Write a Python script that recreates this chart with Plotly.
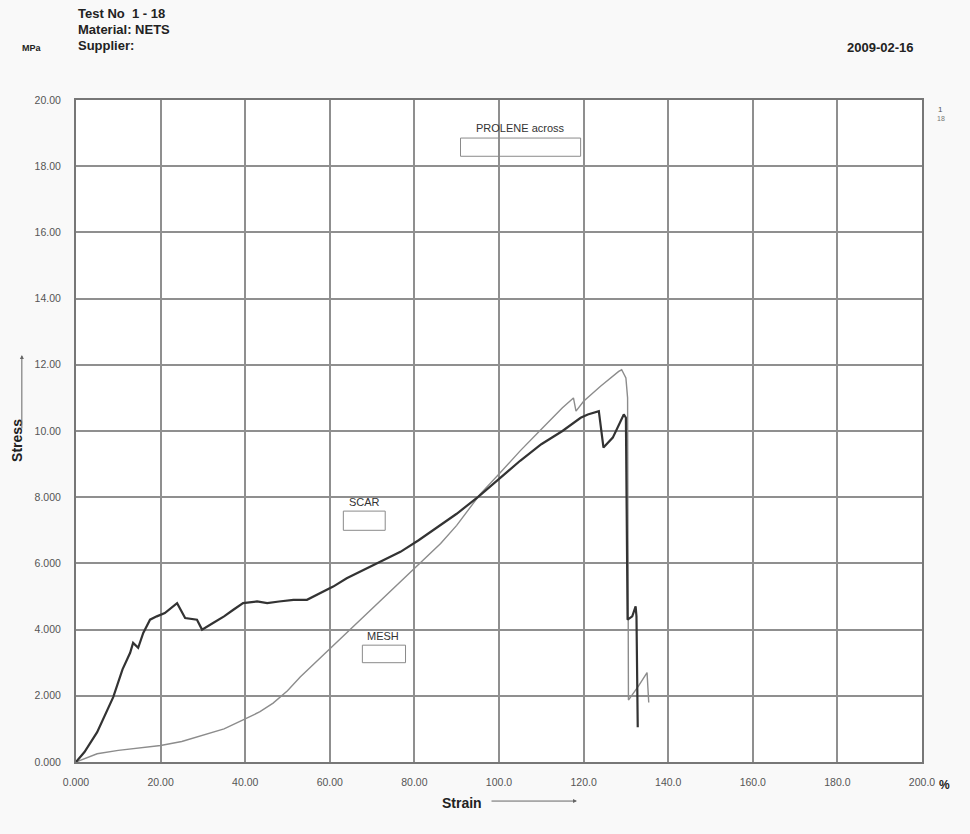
import plotly.graph_objects as go

# ---- data ----
scar_strain = [0, 2, 5, 8.8, 11, 12.8, 13.5, 14.7, 15.9, 17.5, 19.1, 21, 23.9, 24.6, 25.8,
               28.6, 29.8, 32.4, 35, 37.2, 39.5, 42.8, 45.2, 48, 51.4, 54.6, 57.8, 60.8,
               64, 68.9, 72, 76.7, 81, 86.2, 90, 95, 100, 105, 110, 115, 119.3, 121,
               123.6, 124.7, 126.9, 129.5, 130, 130.4, 131.5, 132.3, 132.5, 132.8]
scar_stress = [0, 0.3, 0.9, 1.96, 2.8, 3.3, 3.6, 3.45, 3.9, 4.3, 4.4, 4.5, 4.8, 4.65, 4.35,
               4.3, 4.0, 4.2, 4.4, 4.6, 4.8, 4.85, 4.8, 4.85, 4.9, 4.9, 5.1, 5.3,
               5.55, 5.85, 6.05, 6.35, 6.7, 7.15, 7.5, 8.0, 8.55, 9.1, 9.6, 10.0, 10.4, 10.5,
               10.6, 9.5, 9.8, 10.5, 10.4, 4.3, 4.4, 4.7, 4.4, 1.05]

mesh_strain = [0, 5, 10, 20, 25, 30, 35, 40, 43.5, 46.6, 50, 53, 57.8, 60, 64.9, 70, 76.7,
               80, 86.2, 90, 95.6, 100, 105, 110, 115, 117.6, 118.2, 120, 124, 128.3, 129,
               130, 130.4, 130.6, 133, 135, 135.4]
mesh_stress = [0, 0.25, 0.35, 0.5, 0.62, 0.8, 1.0, 1.3, 1.52, 1.78, 2.15, 2.57, 3.15, 3.42,
               4.0, 4.63, 5.44, 5.84, 6.6, 7.15, 8.1, 8.7, 9.4, 10.05, 10.7, 11.0, 10.6,
               10.9, 11.35, 11.8, 11.85, 11.6, 11.0, 1.87, 2.3, 2.7, 1.8]

x_tickvals = [0, 20, 40, 60, 80, 100, 120, 140, 160, 180, 200]
x_ticktext = ["0.000", "20.00", "40.00", "60.00", "80.00", "100.0", "120.0", "140.0",
              "160.0", "180.0", "200.0"]
y_tickvals = [0, 2, 4, 6, 8, 10, 12, 14, 16, 18, 20]
y_ticktext = ["0.000", "2.000", "4.000", "6.000", "8.000", "10.00", "12.00", "14.00",
              "16.00", "18.00", "20.00"]

FONT = "Liberation Sans"
fig = go.Figure()
fig.add_trace(go.Scatter(x=mesh_strain, y=mesh_stress, mode="lines", name="MESH",
                         line=dict(color="#8c8c8c", width=1.4)))
fig.add_trace(go.Scatter(x=scar_strain, y=scar_stress, mode="lines", name="SCAR",
                         line=dict(color="#333333", width=2.2)))

# label boxes in data coordinates
boxes = [(90.9, 119.3, 18.3, 18.85), (63.2, 73.1, 7.0, 7.58), (67.7, 77.9, 3.0, 3.53)]
for x0, x1, y0, y1 in boxes:
    fig.add_shape(type="rect", x0=x0, x1=x1, y0=y0, y1=y1, xref="x", yref="y",
                  line=dict(color="#8a8a8a", width=1), fillcolor="rgba(0,0,0,0)")

ann = []
def txt(x, y, s, size=12, bold=False, xanchor="center", xref="paper", yref="paper",
        color="#222", textangle=0):
    ann.append(dict(x=x, y=y, xref=xref, yref=yref, text=(f"<b>{s}</b>" if bold else s),
                    showarrow=False, xanchor=xanchor, yanchor="middle", textangle=textangle,
                    font=dict(family=FONT, size=size, color=color)))

txt(105.1, 19.15, "PROLENE across", size=11, xref="x", yref="y", color="#333")
txt(68.2, 7.85, "SCAR", size=11, xref="x", yref="y", color="#333")
txt(72.6, 3.8, "MESH", size=11, xref="x", yref="y", color="#333")

txt(0.0, 1.131, "Test No  1 - 18", size=13, bold=True, xanchor="left")
txt(0.0, 1.107, "Material: NETS", size=13, bold=True, xanchor="left")
txt(0.0, 1.082, "Supplier:", size=13, bold=True, xanchor="left")
txt(-0.066, 1.079, "MPa", size=9, bold=True, xanchor="left")
txt(0.993, 1.080, "2009-02-16", size=13, bold=True, xanchor="right")
txt(1.022, 0.985, "1", size=8, color="#555")
txt(1.022, 0.972, "18", size=7, color="#777")
txt(-0.069, 0.486, "Stress", size=14, bold=True, textangle=-90)
txt(0.456, -0.062, "Strain", size=14, bold=True)
txt(1.027, -0.035, "%", size=12, bold=True)

ann.append(dict(x=-0.064, y=(762 - 355) / 662, xref="paper", yref="paper", text="",
                showarrow=True, ax=0, ay=75, arrowhead=2, arrowsize=0.8, arrowwidth=1,
                arrowcolor="#666"))
ann.append(dict(x=(577 - 76) / 846, y=-0.059, xref="paper", yref="paper", text="",
                showarrow=True, ax=-87, ay=0, arrowhead=2, arrowsize=0.8, arrowwidth=1,
                arrowcolor="#666"))

axis_common = dict(showgrid=True, gridcolor="#8f8f8f", gridwidth=1.5, showline=True,
                   linecolor="#777", linewidth=2, mirror=True, zeroline=False,
                   tickfont=dict(family=FONT, size=10.5, color="#555"), ticks="")

fig.update_layout(
    width=970, height=834,
    margin=dict(l=76, r=48, t=100, b=72),
    paper_bgcolor="#f9f9f9", plot_bgcolor="#ffffff",
    showlegend=False,
    annotations=ann,
    xaxis=dict(range=[0, 200], tickvals=x_tickvals, ticktext=x_ticktext,
               ticklabelstandoff=9, **axis_common),
    yaxis=dict(range=[0, 20], tickvals=y_tickvals, ticktext=y_ticktext,
               ticklabelstandoff=11, **axis_common),
)
fig.write_html("out.html")
